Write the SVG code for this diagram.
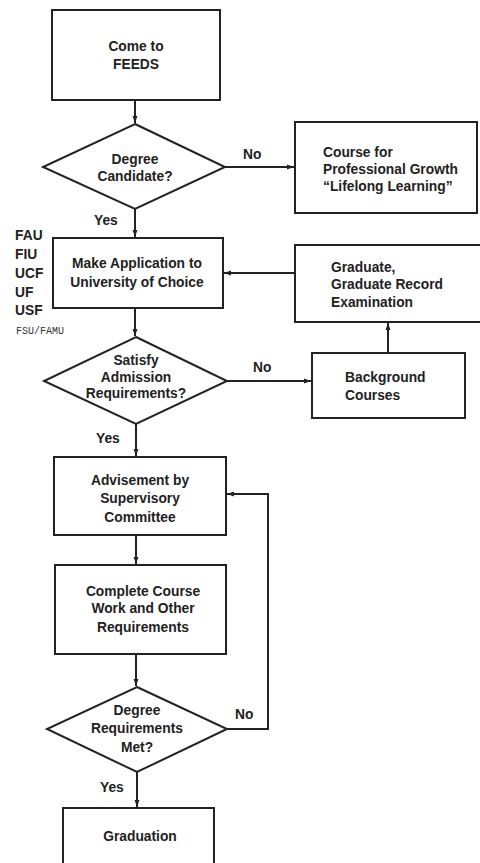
<svg xmlns="http://www.w3.org/2000/svg" width="480" height="863" viewBox="0 0 480 863">
<style>
.box{fill:#fff;stroke:#222;stroke-width:2}
.t{font-family:"Liberation Sans",Arial,sans-serif;font-size:13.8px;font-weight:bold;fill:#222}
.c{text-anchor:middle}
.m{font-family:"Liberation Mono","Courier New",monospace;font-size:10px;fill:#333}
.ln{fill:none;stroke:#222;stroke-width:2}
</style>
<defs>
<marker id="ah" viewBox="0 0 10 10" refX="10" refY="5" markerWidth="7" markerHeight="7" orient="auto" markerUnits="userSpaceOnUse">
<path d="M0,1.5 L10,5 L0,8.5 z" fill="#222"/>
</marker>
</defs>
<rect width="480" height="863" fill="#fff"/>
<g id="connectors">
<path class="ln" d="M135,100 V123" marker-end="url(#ah)"/>
<path class="ln" d="M225,167 H294" marker-end="url(#ah)"/>
<path class="ln" d="M135,209 V237" marker-end="url(#ah)"/>
<path class="ln" d="M295,273 H224" marker-end="url(#ah)"/>
<path class="ln" d="M135,308 V336" marker-end="url(#ah)"/>
<path class="ln" d="M227,381 H311" marker-end="url(#ah)"/>
<path class="ln" d="M388,353 V323" marker-end="url(#ah)"/>
<path class="ln" d="M136,424 V456" marker-end="url(#ah)"/>
<path class="ln" d="M136,535 V564" marker-end="url(#ah)"/>
<path class="ln" d="M136,654 V686" marker-end="url(#ah)"/>
<path class="ln" d="M227,729 H268 V494 H227" marker-end="url(#ah)"/>
<path class="ln" d="M137,772 V807" marker-end="url(#ah)"/>
<text class="t" x="243" y="159">No</text>
<text class="t" x="94" y="225">Yes</text>
<text class="t" x="253" y="372">No</text>
<text class="t" x="96" y="443">Yes</text>
<text class="t" x="235" y="719">No</text>
<text class="t" x="100" y="792">Yes</text>
</g>
<g id="n-feeds">
<rect class="box" x="52" y="10" width="168" height="90"/>
<text class="t c" x="136" y="51">Come to</text>
<text class="t c" x="136" y="69">FEEDS</text>
</g>
<g id="n-degree-candidate">
<polygon class="box" points="135,124 225,167 135,209 43,167"/>
<text class="t c" x="135" y="164">Degree</text>
<text class="t c" x="135" y="181">Candidate?</text>
</g>
<g id="n-course">
<rect class="box" x="295" y="122" width="182" height="91"/>
<text class="t" x="323" y="157">Course for</text>
<text class="t" x="323" y="174">Professional Growth</text>
<text class="t" x="323" y="191">“Lifelong Learning”</text>
</g>
<g id="n-universities">
<text class="t" x="15" y="240">FAU</text>
<text class="t" x="15" y="259">FIU</text>
<text class="t" x="15" y="278">UCF</text>
<text class="t" x="15" y="297">UF</text>
<text class="t" x="15" y="315">USF</text>
<text class="m" x="16" y="334">FSU/FAMU</text>
</g>
<g id="n-application">
<rect class="box" x="53" y="238" width="170" height="70"/>
<text class="t c" x="137" y="268">Make Application to</text>
<text class="t c" x="137" y="287">University of Choice</text>
</g>
<g id="n-gre">
<rect class="box" x="295" y="245" width="186" height="77"/>
<text class="t" x="331" y="272">Graduate,</text>
<text class="t" x="331" y="289">Graduate Record</text>
<text class="t" x="331" y="307">Examination</text>
</g>
<g id="n-satisfy">
<polygon class="box" points="136,337 227,381 136,424 44,381"/>
<text class="t c" x="136" y="365">Satisfy</text>
<text class="t c" x="136" y="382">Admission</text>
<text class="t c" x="136" y="398">Requirements?</text>
</g>
<g id="n-background">
<rect class="box" x="312" y="353" width="153" height="65"/>
<text class="t" x="345" y="382">Background</text>
<text class="t" x="345" y="400">Courses</text>
</g>
<g id="n-advisement">
<rect class="box" x="54" y="457" width="172" height="78"/>
<text class="t c" x="140" y="485">Advisement by</text>
<text class="t c" x="140" y="503">Supervisory</text>
<text class="t c" x="140" y="522">Committee</text>
</g>
<g id="n-complete">
<rect class="box" x="55" y="565" width="171" height="89"/>
<text class="t c" x="143" y="596">Complete Course</text>
<text class="t c" x="143" y="613">Work and Other</text>
<text class="t c" x="143" y="632">Requirements</text>
</g>
<g id="n-degree-met">
<polygon class="box" points="137,687 227,729 137,772 47,729"/>
<text class="t c" x="137" y="715">Degree</text>
<text class="t c" x="137" y="733">Requirements</text>
<text class="t c" x="137" y="752">Met?</text>
</g>
<g id="n-graduation">
<rect class="box" x="63" y="808" width="151" height="70"/>
<text class="t c" x="140" y="841">Graduation</text>
</g>
</svg>
